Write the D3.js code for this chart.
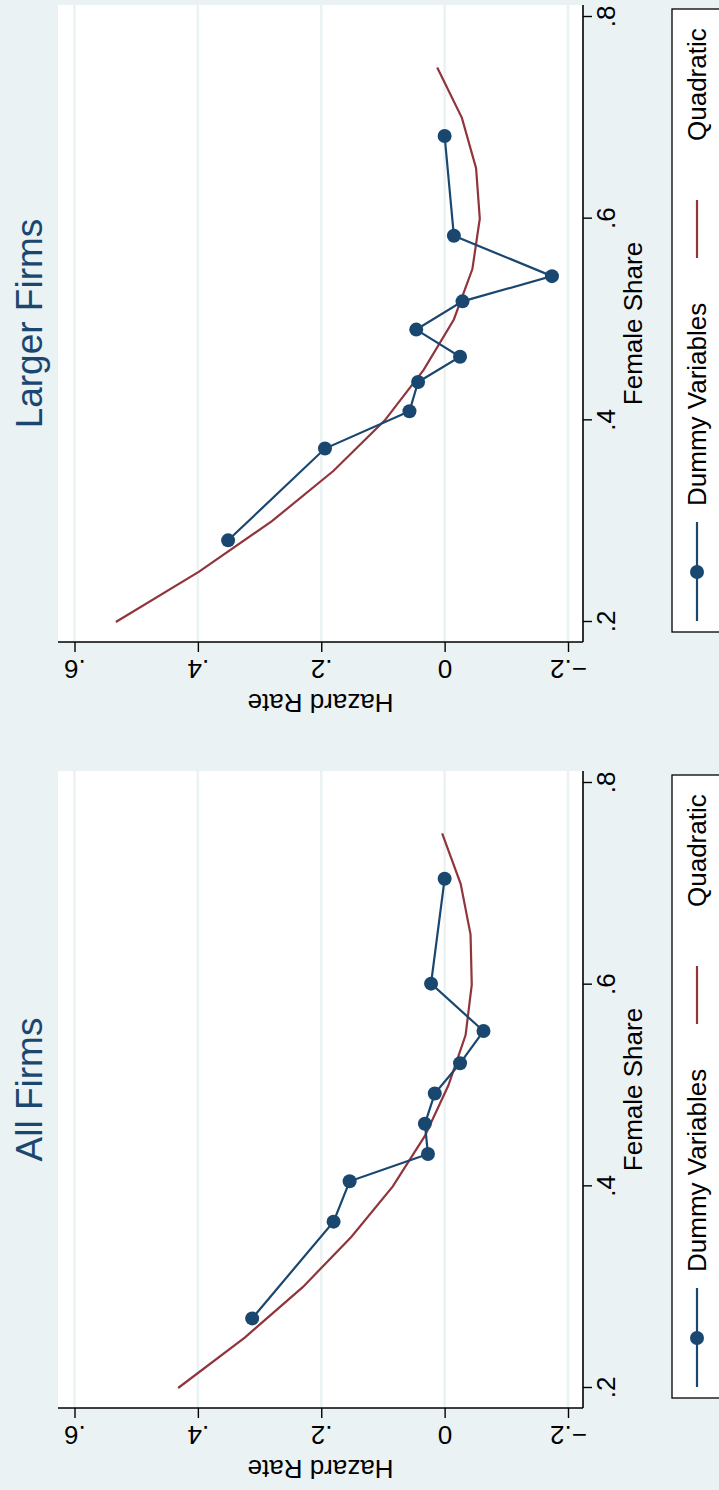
<!doctype html>
<html>
<head>
  <style>
    body { margin: 0; background: #eaf2f3; }
    svg { display: block; }
    text { font-family: "Liberation Sans", Arial, sans-serif; }
  </style>
  <script src="https://cdn.jsdelivr.net/npm/d3@7"></script>
</head>
<body>
<script>
  // tick values
  var shareTicks = [0.2, 0.4, 0.6, 0.8];
  var hazardTicks = [-0.2, 0, 0.2, 0.4, 0.6];

  // quadratic fit evaluated at these female shares
  var quadShare = [0.2, 0.25, 0.3, 0.35, 0.4, 0.45, 0.5, 0.55, 0.6, 0.65, 0.7, 0.75];

  // All Firms
  var allDummyShare  = [0.269, 0.365, 0.405, 0.432, 0.462, 0.492, 0.522, 0.554, 0.601, 0.705];
  var allDummyHazard = [0.312, 0.180, 0.154, 0.027, 0.032, 0.016, -0.025, -0.063, 0.022, 0.000];
  var allQuadHazard  = [0.432, 0.324, 0.230, 0.151, 0.084, 0.032, -0.006, -0.034, -0.044, -0.042, -0.026, 0.004];

  // Larger Firms
  var bigDummyShare  = [0.281, 0.372, 0.409, 0.438, 0.463, 0.490, 0.518, 0.543, 0.583, 0.682];
  var bigDummyHazard = [0.351, 0.194, 0.057, 0.043, -0.025, 0.046, -0.029, -0.174, -0.015, 0.000];
  var bigQuadHazard  = [0.533, 0.398, 0.280, 0.180, 0.097, 0.034, -0.015, -0.045, -0.057, -0.051, -0.028, 0.012];

  var navy = "#1a476f", maroon = "#90353b", bg = "#eaf2f3";
  var fs = 26; // axis + legend text size

  var W = 719, H = 1490;
  var svg = d3.select("body").append("svg")
      .attr("width", W)
      .attr("height", H);

  svg.append("rect").attr("width", W).attr("height", H).attr("fill", bg);

  // the graph is drawn upright (1490 wide, 719 tall) then turned on its side
  var root = svg.append("g")
      .attr("transform", "translate(0," + H + ") rotate(-90)");

  function fmt(d) {
    if (d === 0) return "0";
    return (d < 0 ? "\u2212" : "") + String(Math.abs(d)).replace(/^0/, "");
  }

  function panel(x0, title, dShare, dHaz, qHaz) {
    var g = root.append("g").attr("transform", "translate(" + x0 + ",0)");

    var left = 82, right = 719, top = 58, bottom = 583;

    var x = d3.scaleLinear().domain([0.2, 0.8]).range([102, 707]);
    var y = d3.scaleLinear().domain([-0.2, 0.6]).range([568, 74.5]);

    // plot region
    g.append("rect")
      .attr("x", left).attr("y", top)
      .attr("width", right - left).attr("height", bottom - top)
      .attr("fill", "white");

    // grid
    g.selectAll(".grid")
      .data(hazardTicks)
      .enter()
      .append("line")
      .attr("x1", left).attr("x2", right)
      .attr("y1", function(d) { return y(d); })
      .attr("y2", function(d) { return y(d); })
      .attr("stroke", bg)
      .attr("stroke-width", 2.5);

    // x axis (Female Share)
    var xAxis = d3.axisBottom(x).tickValues(shareTicks).tickFormat(fmt).tickSize(9).tickPadding(5);
    var gx = g.append("g").attr("transform", "translate(0," + bottom + ")").call(xAxis);
    gx.select(".domain").attr("d", "M" + left + ",0H" + right).attr("stroke-width", 1.6);
    gx.selectAll(".tick line").attr("stroke-width", 1.4);
    gx.selectAll(".tick text").attr("font-size", fs).attr("font-family", "Liberation Sans, Arial, sans-serif").attr("fill", "black");

    // y axis (Hazard Rate), labels vertical
    var yAxis = d3.axisLeft(y).tickValues(hazardTicks).tickFormat(fmt).tickSize(10);
    var gy = g.append("g").attr("transform", "translate(" + left + ",0)").call(yAxis);
    gy.select(".domain").attr("d", "M0," + top + "V" + bottom).attr("stroke-width", 1.6);
    gy.selectAll(".tick line").attr("stroke-width", 1.4);
    gy.selectAll(".tick text")
      .attr("x", null).attr("dy", null)
      .attr("transform", "translate(-18,0) rotate(-90)")
      .attr("text-anchor", "middle")
      .attr("font-size", fs).attr("font-family", "Liberation Sans, Arial, sans-serif").attr("fill", "black");

    // axis titles
    g.append("text")
      .attr("x", (left + right) / 2).attr("y", 642)
      .attr("text-anchor", "middle")
      .attr("font-size", fs)
      .text("Female Share");

    g.append("text")
      .attr("transform", "translate(30," + (top + bottom) / 2 + ") rotate(-90)")
      .attr("text-anchor", "middle")
      .attr("font-size", fs)
      .text("Hazard Rate");

    // title
    g.append("text")
      .attr("x", (left + right) / 2).attr("y", 42)
      .attr("text-anchor", "middle")
      .attr("font-size", 37)
      .attr("fill", navy)
      .text(title);

    // quadratic fit
    var quad = quadShare.map(function(s, i) { return [s, qHaz[i]]; });
    var line = d3.line()
      .x(function(d) { return x(d[0]); })
      .y(function(d) { return y(d[1]); });

    g.append("path")
      .datum(quad)
      .attr("d", line)
      .attr("fill", "none")
      .attr("stroke", maroon)
      .attr("stroke-width", 2.2);

    // dummy variables
    var dum = dShare.map(function(s, i) { return [s, dHaz[i]]; });
    g.append("path")
      .datum(dum)
      .attr("d", line)
      .attr("fill", "none")
      .attr("stroke", navy)
      .attr("stroke-width", 2.2);

    g.selectAll(".pt")
      .data(dum)
      .enter()
      .append("circle")
      .attr("cx", function(d) { return x(d[0]); })
      .attr("cy", function(d) { return y(d[1]); })
      .attr("r", 7)
      .attr("fill", navy);

    // legend
    var lg = g.append("g");
    lg.append("rect")
      .attr("x", 92).attr("y", 672)
      .attr("width", 623).attr("height", 70)
      .attr("fill", "white")
      .attr("stroke", "black")
      .attr("stroke-width", 1.3);

    var ky = 697;
    lg.append("line").attr("x1", 103).attr("x2", 202).attr("y1", ky).attr("y2", ky)
      .attr("stroke", navy).attr("stroke-width", 2.2);
    lg.append("circle").attr("cx", 152).attr("cy", ky).attr("r", 7).attr("fill", navy);
    lg.append("text").attr("x", 218).attr("y", ky + 9).attr("font-size", fs).text("Dummy Variables");

    lg.append("line").attr("x1", 466).attr("x2", 524).attr("y1", ky).attr("y2", ky)
      .attr("stroke", maroon).attr("stroke-width", 2.2);
    lg.append("text").attr("x", 583).attr("y", ky + 9).attr("font-size", fs).text("Quadratic");
  }

  panel(0, "All Firms", allDummyShare, allDummyHazard, allQuadHazard);
  panel(766, "Larger Firms", bigDummyShare, bigDummyHazard, bigQuadHazard);
</script>
</body>
</html>
